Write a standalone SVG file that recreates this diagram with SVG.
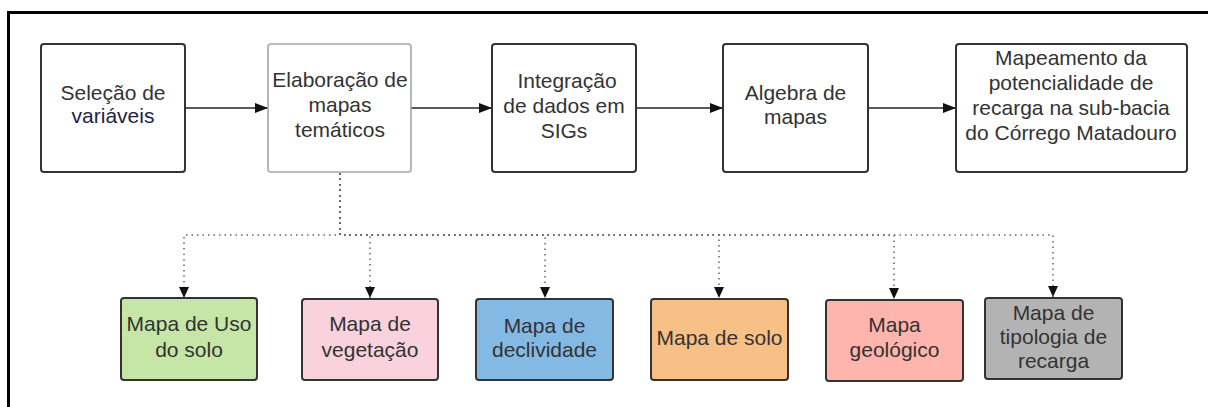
<svg xmlns="http://www.w3.org/2000/svg" width="1208" height="407" viewBox="0 0 1208 407">
  <defs>
    <marker id="arrow" markerUnits="userSpaceOnUse" markerWidth="14" markerHeight="12" refX="13" refY="6" orient="auto">
      <path d="M0,1 L13,6 L0,11 Z" fill="#111"/>
    </marker>
    <marker id="arrow-dot" markerUnits="userSpaceOnUse" markerWidth="12" markerHeight="12" refX="11" refY="6" orient="auto">
      <path d="M0,1 L11,6 L0,11 Z" fill="#111"/>
    </marker>
  </defs>
  <style>
    .box { stroke: #333; stroke-width: 2; fill: #fff; }
    .box-light { stroke: #a6a6a6; stroke-width: 1.6; fill: #fff; }
    .flow { stroke: #222; stroke-width: 1.5; fill: none; marker-end: url(#arrow); }
    .branch { stroke: #666; stroke-width: 1.5; fill: none; stroke-dasharray: 1.5 4; marker-end: url(#arrow-dot); }
    text { font-family: "Liberation Sans", Arial, sans-serif; font-size: 21px; fill: #333; text-anchor: middle; }
  </style>

  <rect width="1208" height="407" fill="#fff"/>
  <!-- frame -->
  <path d="M8.5,407 V12.5 H1208" fill="none" stroke="#000" stroke-width="3"/>

  <!-- connectors -->
  <g id="connectors">
    <line class="flow" x1="185" y1="108" x2="268" y2="108"/>
    <line class="flow" x1="411" y1="108" x2="492" y2="108"/>
    <line class="flow" x1="636" y1="108" x2="723" y2="108"/>
    <line class="flow" x1="868" y1="108" x2="956" y2="108"/>
    <path class="branch" d="M340,173 V235 H184 V298"/>
    <path class="branch" d="M340,173 V235 H370 V298"/>
    <path class="branch" d="M340,173 V235 H545 V298"/>
    <path class="branch" d="M340,173 V235 H719 V298"/>
    <path class="branch" d="M340,173 V235 H894 V299"/>
    <path class="branch" d="M340,173 V235 H1053 V297"/>
  </g>

  <!-- process steps -->
  <g id="selecao">
    <rect class="box" x="41" y="44" width="144" height="128" rx="3"/>
    <text x="113" y="100">Seleção de</text>
    <text x="113" y="123" style="fill:#1e2246">variáveis</text>
  </g>
  <g id="elaboracao">
    <rect class="box-light" x="268" y="44" width="143" height="128" rx="3"/>
    <text x="340" y="87">Elaboração de</text>
    <text x="340" y="112">mapas</text>
    <text x="340" y="137">temáticos</text>
  </g>
  <g id="integracao">
    <rect class="box" x="492" y="44" width="144" height="128" rx="3"/>
    <text x="567" y="88">Integração</text>
    <text x="564" y="113">de dados em</text>
    <text x="564" y="138">SIGs</text>
  </g>
  <g id="algebra">
    <rect class="box" x="723" y="44" width="145" height="128" rx="3"/>
    <text x="795.5" y="100">Algebra de</text>
    <text x="795.5" y="124">mapas</text>
  </g>
  <g id="mapeamento">
    <rect class="box" x="956" y="44" width="231" height="128" rx="3"/>
    <text x="1071" y="65">Mapeamento da</text>
    <text x="1071" y="90">potencialidade de</text>
    <text x="1071" y="115">recarga na sub-bacia</text>
    <text x="1071" y="140">do Córrego Matadouro</text>
  </g>

  <!-- thematic maps -->
  <g id="uso-solo">
    <rect class="box" x="121" y="298" width="136" height="82" rx="3" style="fill:#c5e6a6"/>
    <text x="189" y="331">Mapa de Uso</text>
    <text x="189" y="357">do solo</text>
  </g>
  <g id="vegetacao">
    <rect class="box" x="302" y="299" width="136" height="81" rx="3" style="fill:#f9d2de"/>
    <text x="370" y="331">Mapa de</text>
    <text x="370" y="357">vegetação</text>
  </g>
  <g id="declividade">
    <rect class="box" x="476" y="299" width="137" height="81" rx="3" style="fill:#83b9e3"/>
    <text x="544.5" y="333">Mapa de</text>
    <text x="544.5" y="357">declividade</text>
  </g>
  <g id="solo">
    <rect class="box" x="651" y="299" width="137" height="81" rx="3" style="fill:#f6c087"/>
    <text x="719.5" y="345">Mapa de solo</text>
  </g>
  <g id="geologico">
    <rect class="box" x="826" y="300" width="137" height="81" rx="3" style="fill:#ffb5ad"/>
    <text x="894.5" y="332">Mapa</text>
    <text x="894.5" y="357">geológico</text>
  </g>
  <g id="tipologia">
    <rect class="box" x="985" y="298" width="137" height="81" rx="3" style="fill:#b3b3b3"/>
    <text x="1053.5" y="320">Mapa de</text>
    <text x="1053.5" y="344">tipologia de</text>
    <text x="1053.5" y="368">recarga</text>
  </g>
</svg>
